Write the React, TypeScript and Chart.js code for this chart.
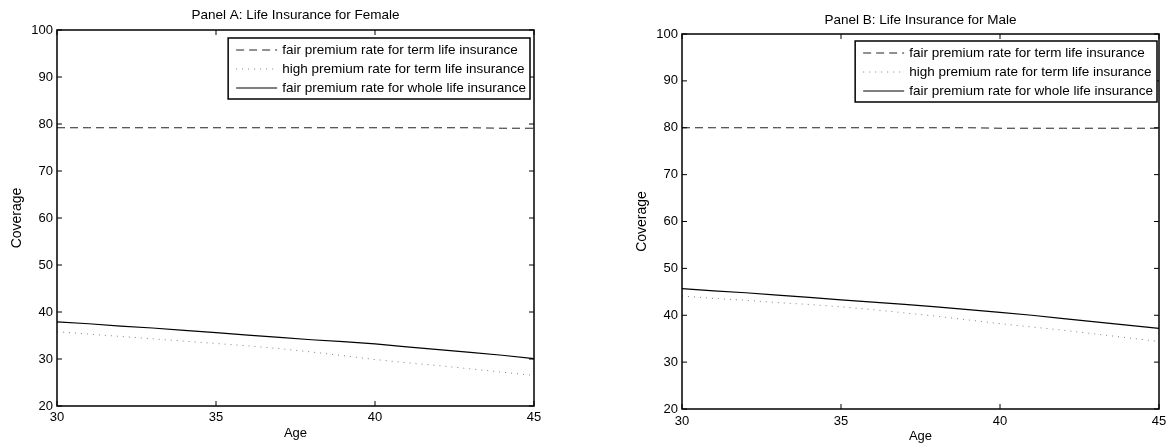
import React, { useEffect, useRef } from 'react';
import { Chart, registerables } from 'chart.js';

Chart.register(...registerables);

const ages = [30, 31, 32, 33, 34, 35, 36, 37, 38, 39, 40, 41, 42, 43, 44, 45];

const femaleFairTerm = [79.2, 79.2, 79.2, 79.2, 79.2, 79.2, 79.2, 79.2, 79.2, 79.2, 79.2, 79.2, 79.2, 79.2, 79.1, 79.1];
const femaleHighTerm = [35.8, 35.3, 34.8, 34.3, 33.8, 33.3, 32.8, 32.2, 31.5, 30.7, 29.9, 29.2, 28.6, 27.9, 27.2, 26.5];
const femaleFairWhole = [37.9, 37.5, 37.0, 36.6, 36.1, 35.6, 35.1, 34.6, 34.1, 33.7, 33.2, 32.6, 32.0, 31.4, 30.8, 30.1];

const maleFairTerm = [80.0, 80.0, 80.0, 80.0, 80.0, 80.0, 80.0, 80.0, 80.0, 80.0, 79.9, 79.9, 79.9, 79.9, 79.9, 79.9];
const maleHighTerm = [44.1, 43.6, 43.2, 42.7, 42.3, 41.8, 41.2, 40.5, 39.8, 39.0, 38.2, 37.5, 36.8, 36.0, 35.2, 34.4];
const maleFairWhole = [45.7, 45.2, 44.8, 44.3, 43.8, 43.3, 42.8, 42.3, 41.8, 41.2, 40.6, 40.0, 39.3, 38.6, 37.9, 37.2];

const xTicks = [30, 35, 40, 45];
const yTicks = [20, 30, 40, 50, 60, 70, 80, 90, 100];

const seriesLabels = [
  'fair premium rate for term life insurance',
  'high premium rate for term life insurance',
  'fair premium rate for whole life insurance',
];
const panelTitles = ['Panel A: Life Insurance for Female', 'Panel B: Life Insurance for Male'];
const xTitle = 'Age';
const yTitle = 'Coverage';

const FONT = '"Liberation Sans", Arial, Helvetica, sans-serif';

const framePlugin = {
  id: 'matlabFrame',
  afterDatasetsDraw(chart: any, _args: any, opts: any) {
    const { ctx, chartArea: a, scales } = chart;
    const xs = scales.x;
    const ys = scales.y;
    ctx.save();
    ctx.strokeStyle = '#000';
    ctx.lineWidth = 1;
    const tl = 5;
    ctx.beginPath();
    for (const t of ys.ticks) {
      const py = ys.getPixelForValue(t.value);
      ctx.moveTo(a.left, py);
      ctx.lineTo(a.left + tl, py);
      ctx.moveTo(a.right, py);
      ctx.lineTo(a.right - tl, py);
    }
    for (const t of xs.ticks) {
      const px = xs.getPixelForValue(t.value);
      ctx.moveTo(px, a.top);
      ctx.lineTo(px, a.top + tl);
      ctx.moveTo(px, a.bottom);
      ctx.lineTo(px, a.bottom - tl);
    }
    ctx.stroke();
    ctx.lineWidth = 1.5;
    ctx.strokeRect(a.left, a.top, a.right - a.left, a.bottom - a.top);

    // legend box
    const fontSize = opts.fontSize || 13.5;
    ctx.font = `${fontSize}px ${FONT}`;
    const datasets = chart.data.datasets;
    let maxW = 0;
    for (const ds of datasets) maxW = Math.max(maxW, ctx.measureText(ds.label).width);
    const boxW = 54 + maxW + 4;
    const boxH = 61;
    const right = a.right - opts.insetRight;
    const left = right - boxW;
    const top = a.top + opts.insetTop;
    ctx.fillStyle = '#fff';
    ctx.fillRect(left, top, boxW, boxH);
    ctx.lineWidth = 1.5;
    ctx.strokeStyle = '#000';
    ctx.strokeRect(left, top, boxW, boxH);
    datasets.forEach((ds: any, i: number) => {
      const cy = top + 12 + i * 19;
      ctx.save();
      ctx.strokeStyle = ds.borderColor;
      ctx.lineWidth = ds.borderWidth;
      ctx.setLineDash(ds.borderDash || []);
      ctx.beginPath();
      ctx.moveTo(left + 8, cy);
      ctx.lineTo(left + 49, cy);
      ctx.stroke();
      ctx.restore();
      ctx.fillStyle = '#000';
      ctx.textAlign = 'left';
      ctx.textBaseline = 'middle';
      ctx.fillText(ds.label, left + 54, cy);
    });
    ctx.restore();
  },
};

type PanelProps = {
  left: number;
  width: number;
  height: number;
  title: string;
  series: number[][];
  plotRight: number;
  plotBottom: number;
  titlePad: { top: number; bottom: number };
  tickPadX: number;
  agePad: number;
  yTitlePad: number;
  insetRight: number;
  insetTop: number;
};

function Panel(p: PanelProps) {
  const ref = useRef<HTMLCanvasElement | null>(null);
  useEffect(() => {
    if (!ref.current) return;
    const styles = [
      { borderColor: '#222', borderDash: [8, 5], borderWidth: 1 },
      { borderColor: '#808080', borderDash: [1, 5], borderWidth: 1 },
      { borderColor: '#000', borderDash: [], borderWidth: 1.2 },
    ];
    const chart = new Chart(ref.current, {
      type: 'line',
      data: {
        datasets: p.series.map((vals, i) => ({
          label: seriesLabels[i],
          data: ages.map((a, j) => ({ x: a, y: vals[j] })),
          borderColor: styles[i].borderColor,
          borderDash: styles[i].borderDash,
          borderWidth: styles[i].borderWidth,
          pointRadius: 0,
          tension: 0,
          fill: false,
        })),
      },
      options: {
        animation: false,
        responsive: false,
        maintainAspectRatio: false,
        layout: { padding: { left: 0, right: p.width - p.plotRight, top: 0, bottom: 0 } },
        plugins: {
          legend: { display: false },
          tooltip: { enabled: false },
          title: {
            display: true,
            text: p.title,
            fullSize: false,
            color: '#000',
            font: { family: FONT, size: 13.5, weight: 'normal' },
            padding: p.titlePad,
          },
          matlabFrame: { insetRight: p.insetRight, insetTop: p.insetTop, fontSize: 13.5 },
        } as any,
        scales: {
          x: {
            type: 'linear',
            min: 30,
            max: 45,
            afterBuildTicks: (s: any) => {
              s.ticks = xTicks.map((v) => ({ value: v }));
            },
            afterFit: (s: any) => {
              s.height = p.height - p.plotBottom;
            },
            grid: { display: false, drawTicks: false },
            border: { display: false },
            ticks: {
              color: '#000',
              font: { family: FONT, size: 13 },
              padding: p.tickPadX,
              maxRotation: 0,
              autoSkip: false,
            },
            title: {
              display: true,
              text: xTitle,
              color: '#000',
              font: { family: FONT, size: 13 },
              padding: { top: 0, bottom: p.agePad },
            },
          },
          y: {
            type: 'linear',
            min: 20,
            max: 100,
            afterBuildTicks: (s: any) => {
              s.ticks = yTicks.map((v) => ({ value: v }));
            },
            afterFit: (s: any) => {
              s.width = 57;
            },
            grid: { display: false, drawTicks: false },
            border: { display: false },
            ticks: {
              color: '#000',
              font: { family: FONT, size: 13 },
              padding: 4,
              autoSkip: false,
            },
            title: {
              display: true,
              text: yTitle,
              color: '#000',
              font: { family: FONT, size: 14 },
              padding: { top: p.yTitlePad, bottom: 0 },
            },
          },
        },
      },
      plugins: [framePlugin],
    } as any);
    return () => chart.destroy();
  }, []);
  return (
    <canvas
      ref={ref}
      width={p.width}
      height={p.height}
      style={{ position: 'absolute', left: p.left, top: 0, width: p.width, height: p.height }}
    />
  );
}

export default function App() {
  return (
    <div style={{ position: 'fixed', left: 0, top: 0, width: 1168, height: 443, overflow: 'hidden', background: '#fff' }}>
      <Panel
        left={0}
        width={590}
        height={443}
        title={panelTitles[0]}
        series={[femaleFairTerm, femaleHighTerm, femaleFairWhole]}
        plotRight={534}
        plotBottom={406}
        titlePad={{ top: 7.2, bottom: 6.6 }}
        tickPadX={3.5}
        agePad={2.2}
        yTitlePad={8.9}
        insetRight={4}
        insetTop={8}
      />
      <Panel
        left={625}
        width={570}
        height={446}
        title={panelTitles[1]}
        series={[maleFairTerm, maleHighTerm, maleFairWhole]}
        plotRight={534}
        plotBottom={409}
        titlePad={{ top: 11.9, bottom: 5.9 }}
        tickPadX={5}
        agePad={1.5}
        yTitlePad={8.3}
        insetRight={2}
        insetTop={7}
      />
    </div>
  );
}
